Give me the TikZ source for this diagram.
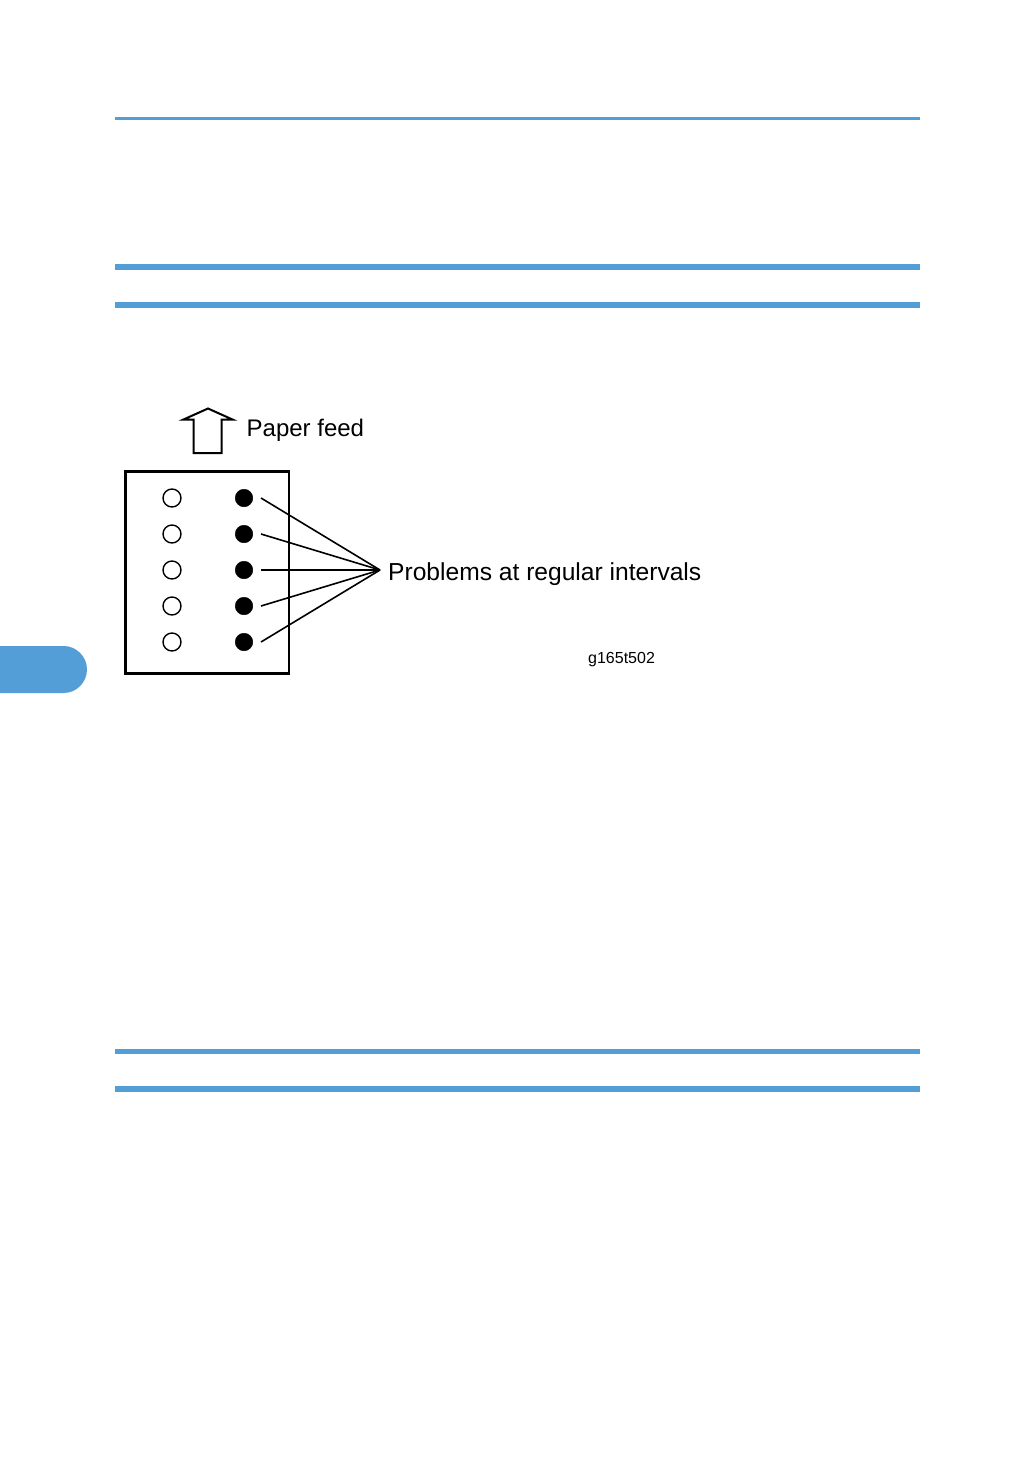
\documentclass[tikz,border=0pt]{standalone}
\usepackage{fontspec}
\setmainfont{Liberation Sans}
\definecolor{rblue}{RGB}{84,158,216}
\begin{document}
\begin{tikzpicture}[x=1pt,y=-1pt,
  rule/.style={draw=rblue,line width=#1},
  opendot/.style={circle,draw=black,line width=1.4pt,minimum size=18pt,inner sep=0pt},
  fulldot/.style={circle,fill=black,draw=black,line width=0.5pt,minimum size=17.5pt,inner sep=0pt},
  conn/.style={draw=black,line width=1.6pt},
  lbl/.style={font=\fontsize{24}{28}\selectfont,inner sep=0pt}]
\useasboundingbox[fill=white] (0,0) rectangle (1036,1470);
% rules
\draw[rule=3pt] (115,118) -- (920,118);
\draw[rule=6pt] (115,267) -- (920,267);
\draw[rule=6pt] (115,305) -- (920,305);
\draw[rule=5pt] (115,1051) -- (920,1051);
\draw[rule=6pt] (115,1088.5) -- (920,1088.5);
% tab
\fill[rblue] (0,646) -- (63.5,646) arc[start angle=-90,end angle=90,radius=23.5] -- (0,693) -- cycle;
% paper feed arrow
\draw[line width=2pt,line join=miter] (208,408.5) -- (232.5,419.5) -- (221.5,419.5) -- (221.5,453) -- (193.5,453) -- (193.5,419.5) -- (183.5,419.5) -- cycle;
\node[lbl,anchor=base west] (feed) at (246.5,436) {Paper feed};
% sheet
\draw[line width=2.5pt] (125.5,471.5) rectangle (289,673.5);
\foreach \i in {1,...,5}{
  \node[opendot] (o\i) at (172,462+36*\i) {};
  \node[fulldot] (d\i) at (244,462+36*\i) {};
}
\coordinate (tip) at (380,570);
\foreach \i in {1,...,5}{
  \draw[conn] ([xshift=8pt]d\i.east) -- (tip);
}
\node[font=\fontsize{24.6}{28}\selectfont,inner sep=0pt,anchor=base west] (prob) at (388,580) {Problems at regular intervals};
\node[font=\fontsize{16}{19}\selectfont,inner sep=0pt,anchor=base west] (code) at (588,663.5) {g165t502};
\end{tikzpicture}
\end{document}
